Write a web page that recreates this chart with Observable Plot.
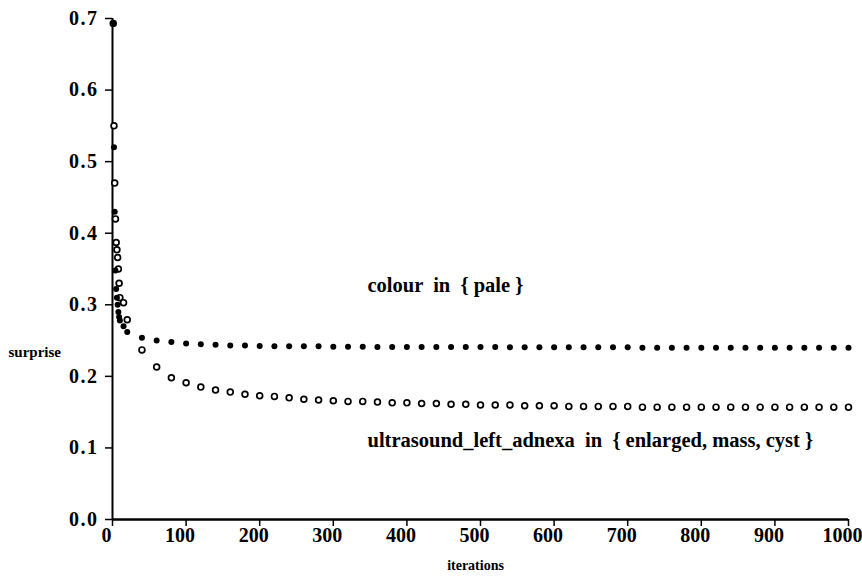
<!DOCTYPE html>
<html><head><meta charset="utf-8">
<script src="https://cdn.jsdelivr.net/npm/d3@7"></script>
<script src="https://cdn.jsdelivr.net/npm/@observablehq/plot@0.6"></script>
<style>
body{margin:0;background:#fff}
g[aria-label="y-axis tick label"] text{letter-spacing:1.5px}
</style>
</head><body><div id="chart"></div>
<script>
const iterations = [1,2,3,4,5,6,7,8,9,10,15,20,40,60,80,100,120,140,160,180,200,220,240,260,280,300,320,340,360,380,400,420,440,460,480,500,520,540,560,580,600,620,640,660,680,700,720,740,760,780,800,820,840,860,880,900,920,940,960,980,1000];
const colourPale = [0.693,0.52,0.43,0.348,0.322,0.31,0.30,0.29,0.283,0.278,0.27,0.262,0.254,0.250,0.248,0.246,0.245,0.244,0.243,0.243,0.2425,0.242,0.242,0.242,0.242,0.2415,0.2415,0.2415,0.241,0.241,0.241,0.241,0.241,0.241,0.241,0.241,0.241,0.2405,0.2405,0.2405,0.2405,0.2405,0.2405,0.2405,0.2405,0.2405,0.240,0.240,0.240,0.240,0.240,0.240,0.240,0.240,0.240,0.240,0.240,0.240,0.240,0.240,0.240];
const ultrasoundLeftAdnexa = [0.693,0.55,0.47,0.42,0.387,0.377,0.366,0.35,0.33,0.31,0.303,0.279,0.237,0.213,0.198,0.191,0.185,0.181,0.178,0.175,0.173,0.172,0.170,0.168,0.167,0.166,0.165,0.165,0.164,0.163,0.163,0.162,0.162,0.161,0.161,0.160,0.160,0.160,0.159,0.159,0.159,0.158,0.158,0.158,0.158,0.158,0.157,0.157,0.157,0.157,0.157,0.157,0.157,0.157,0.157,0.157,0.157,0.157,0.157,0.157,0.157];
const seriesLabels = ["colour  in  { pale }", "ultrasound_left_adnexa  in  { enlarged, mass, cyst }"];
const xTicks = [0,100,200,300,400,500,600,700,800,900,1000];
const yTicks = [0,0.1,0.2,0.3,0.4,0.5,0.6,0.7];
const xLabel = "iterations";
const yLabel = "surprise";

const pale = iterations.map((x, i) => ({x, y: colourPale[i]}));
const ultra = iterations.map((x, i) => ({x, y: ultrasoundLeftAdnexa[i]}));

const chart = Plot.plot({
  width: 862,
  height: 578,
  marginLeft: 112,
  marginRight: 14,
  marginTop: 18,
  marginBottom: 59,
  style: {fontFamily: "'Liberation Serif', serif", fontSize: "16px", fontWeight: "bold", color: "black", background: "white"},
  x: {domain: [0, 1000]},
  y: {domain: [0, 0.7]},
  marks: [
    Plot.axisX({ticks: xTicks, tickSize: 7, tickFormat: () => "", label: null, strokeWidth: 1.5}),
    Plot.text(xTicks, {x: d => d, text: d => String(d), frameAnchor: "bottom", lineAnchor: "middle", dy: 16, dx: -6, fontSize: 20}),
    Plot.axisY({ticks: yTicks, tickSize: 7, tickPadding: 7, tickFormat: d3.format(".1f"), label: null, strokeWidth: 1.5, fontSize: 20}),
    Plot.ruleX([0], {stroke: "black", strokeWidth: 2}),
    Plot.ruleY([0], {stroke: "black", strokeWidth: 2.5}),
    Plot.dot(ultra, {x: "x", y: "y", r: 2.9, stroke: "black", strokeWidth: 1.7, fill: "white"}),
    Plot.dot(pale, {x: "x", y: "y", r: 3, fill: "black", stroke: null}),
    Plot.text([seriesLabels[0]], {frameAnchor: "top-left", lineAnchor: "middle", dx: 255, dy: 267, textAnchor: "start", fontSize: 20.5}),
    Plot.text([seriesLabels[1]], {frameAnchor: "top-left", lineAnchor: "middle", dx: 255, dy: 422, textAnchor: "start", fontSize: 20.5}),
    Plot.text([yLabel], {frameAnchor: "left", lineAnchor: "middle", dx: -104, dy: 83, textAnchor: "start", fontSize: 15}),
    Plot.text([xLabel], {frameAnchor: "bottom", lineAnchor: "middle", dx: -5, dy: 46, fontSize: 14})
  ]
});
document.getElementById("chart").appendChild(chart);
</script>
</body></html>
